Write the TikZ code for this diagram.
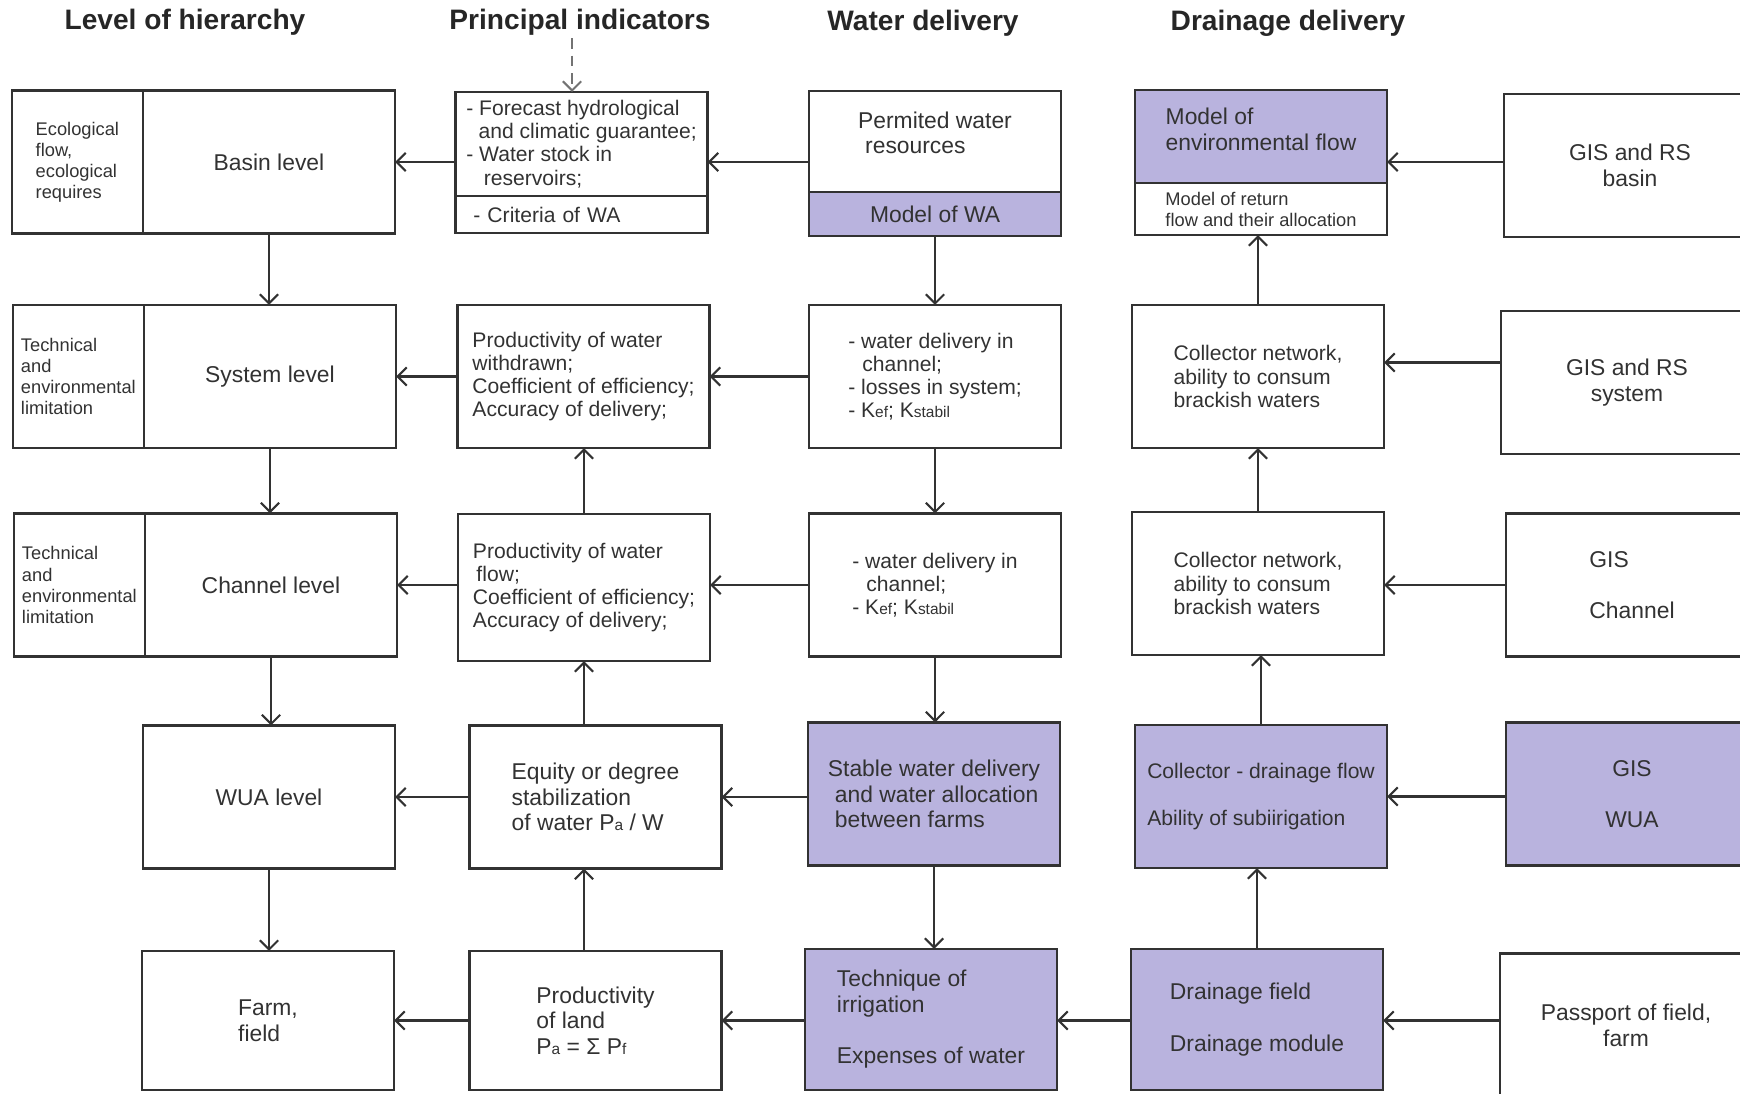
\documentclass[tikz,border=0pt]{standalone}
\usepackage{fontspec}
\setmainfont{Liberation Sans}
\usetikzlibrary{positioning, arrows.meta}

\definecolor{boxpurple}{RGB}{185,179,222}
\definecolor{inkgrey}{RGB}{50,50,50}
\newcommand{\subtxt}[1]{{\fontsize{4.4}{5}\selectfont #1}}

\begin{document}
\begin{tikzpicture}[x=0.01cm, y=-0.01cm, >={Straight Barb[length=2.6pt,width=5.2pt]},
    box/.style={rectangle, draw=inkgrey, line width=0.7pt, outer sep=0pt, minimum width=2.52cm, minimum height=1.43cm, align=left, text=inkgrey, inner sep=1pt, font=\fontsize{6.5}{7.3}\selectfont},
    midtext/.style={font=\fontsize{6.0}{6.6}\selectfont},
    smalltext/.style={font=\fontsize{5.2}{6.0}\selectfont},
    purplebox/.style={fill=boxpurple},
    sidebox/.style={box, smalltext, minimum width=1.31cm},
    heading/.style={font=\bfseries\fontsize{8}{9}\selectfont, text=black!85},
    link/.style={->, line width=0.6pt, draw=inkgrey}]

    \useasboundingbox (0,0) rectangle (1740,1093);
    \clip (0,0) rectangle (1740,1093);

    % Column headings
    \node[heading] (hlevel) at (185,22) {Level of hierarchy};
    \node[heading] (hprinc) at (580,22) {Principal indicators};
    \node[heading] (hwater) at (923,23) {Water delivery};
    \node[heading] (hdrain) at (1288,23) {Drainage delivery};

    % Basin row
    \node[box] (basin) at (269,162) {Basin level};
    \node[sidebox, left=0pt of basin] (eco) {Ecological\\flow,\\ecological\\requires};
    \node[box, midtext, minimum height=1.04cm] (forecast) at (581.5,144) {- Forecast hydrological\\\hspace*{3.5pt}and climatic guarantee;\\- Water stock in\\\hspace*{5pt}reservoirs;};
    \node[box, midtext, minimum height=0.37cm, text width=2.16cm, below=0pt of forecast] (criteria) {- Criteria of WA};
    \node[box, minimum height=1.01cm, text depth=5pt] (permited) at (935,141.5) {Permited water\\\hspace*{2pt}resources};
    \node[box, purplebox, minimum height=0.44cm, below=0pt of permited] (modelwa) {Model of WA};
    \node[box, purplebox, minimum height=0.93cm, text depth=4pt] (modelenv) at (1261,136.5) {Model of\\environmental flow};
    \node[box, smalltext, minimum height=0.52cm, below=0pt of modelenv] (ret) {Model of return\\flow and their allocation};
    \node[box, align=center] (gisb) at (1630,165.5) {GIS and RS\\basin};

    % System row
    \node[box] (system) at (270,376.5) {System level};
    \node[sidebox, left=0pt of system] (techsys) {Technical\\and\\environmental\\limitation};
    \node[box, midtext] (prodw) at (583.5,376.5) {Productivity of water\\withdrawn;\\Coefficient of efficiency;\\Accuracy of delivery;};
    \node[box, midtext] (wdsys) at (935,376.5) {- water delivery in\\\hspace*{4pt}channel;\\- losses in system;\\- K\subtxt{ef}; K\subtxt{stabil}};
    \node[box, midtext] (collsys) at (1258,376.5) {Collector network,\\ability to consum\\brackish waters};
    \node[box, align=center] (giss) at (1627,382.5) {GIS and RS\\system};

    % Channel row
    \node[box] (channel) at (271,585) {Channel level};
    \node[sidebox, left=0pt of channel] (techch) {Technical\\and\\environmental\\limitation};
    \node[box, midtext, minimum height=1.47cm] (prodf) at (584,587.5) {Productivity of water\\\hspace*{1pt}flow;\\Coefficient of efficiency;\\Accuracy of delivery;};
    \node[box, midtext] (wdch) at (935,585) {- water delivery in\\\hspace*{4pt}channel;\\- K\subtxt{ef}; K\subtxt{stabil}};
    \node[box, midtext] (collch) at (1258,583.5) {Collector network,\\ability to consum\\brackish waters};
    \node[box] (gisc) at (1632,585) {GIS\\[7.3pt]Channel};

    % WUA row
    \node[box] (wua) at (269,797) {WUA level};
    \node[box] (equity) at (595.5,797) {Equity or degree\\stabilization\\of water P\subtxt{a} / W};
    \node[box, purplebox] (stable) at (934,794) {Stable water delivery\\\hspace*{2pt}and water allocation\\\hspace*{2pt}between farms};
    \node[box, purplebox, midtext] (colldr) at (1261,796.5) {Collector - drainage flow\\[6.6pt]Ability of subiirigation};
    \node[box, purplebox, align=center] (gisw) at (1632,794) {GIS\\[7.3pt]WUA};

    % Field row
    \node[box, minimum height=1.39cm] (farm) at (268,1020.5) {Farm,\\field};
    \node[box, minimum height=1.39cm] (prodl) at (595.5,1020.5) {Productivity\\of land\\P\subtxt{a} = Σ P\subtxt{f}};
    \node[box, purplebox, minimum height=1.41cm] (techirr) at (931,1019.5) {Technique of\\irrigation\\[7.3pt]Expenses of water};
    \node[box, purplebox, minimum height=1.41cm] (drfield) at (1257,1019.5) {Drainage field\\[7.3pt]Drainage module};
    \node[box, align=center] (passport) at (1626,1025) {Passport of field,\\farm};

    % Dotted input
    \coordinate (dottop) at (572,38);
    \draw[link, densely dashed, draw=black!55] (dottop) -- (dottop |- forecast.north);

    % Horizontal links
    \draw[link] (forecast.west |- basin) -- (basin.east);
    \draw[link] (permited.west |- basin) -- (forecast.east |- basin);
    \draw[link] (gisb.west |- basin) -- (modelenv.east |- basin);
    \draw[link] (prodw.west) -- (prodw.west -| system.east);
    \draw[link] (wdsys.west) -- (wdsys.west -| prodw.east);
    \draw[link] ([yshift=0.2cm]giss.west) -- ([yshift=0.2cm]giss.west -| collsys.east);
    \draw[link] (prodf.west |- channel) -- (channel.east);
    \draw[link] (wdch.west) -- (wdch.west -| prodf.east);
    \draw[link] (gisc.west) -- (gisc.west -| collch.east);
    \draw[link] (equity.west |- wua) -- (wua.east);
    \draw[link] (stable.west |- equity) -- (equity.east);
    \draw[link] (gisw.west |- colldr) -- (colldr.east);
    \draw[link] (prodl.west |- farm) -- (farm.east);
    \draw[link] (techirr.west |- prodl) -- (prodl.east);
    \draw[link] (drfield.west |- prodl) -- (techirr.east |- prodl);
    \draw[link] (passport.west |- prodl) -- (drfield.east |- prodl);

    % Vertical links
    \draw[link] (basin.south) -- (basin.south |- system.north);
    \draw[link] (system.south) -- (system.south |- channel.north);
    \draw[link] (channel.south) -- (channel.south |- wua.north);
    \draw[link] (wua.south) -- (wua.south |- farm.north);
    \draw[link] (prodf.north) -- (prodf.north |- prodw.south);
    \draw[link] (equity.north -| prodf) -- (prodf.south);
    \draw[link] (prodl.north -| prodf) -- (equity.south -| prodf);
    \draw[link] (modelwa.south) -- (modelwa.south |- wdsys.north);
    \draw[link] (wdsys.south) -- (wdsys.south |- wdch.north);
    \draw[link] (wdch.south) -- (wdch.south |- stable.north);
    \draw[link] (stable.south) -- (stable.south |- techirr.north);
    \draw[link] (collsys.north) -- (collsys.north |- ret.south);
    \draw[link] (collch.north) -- (collch.north |- collsys.south);
    \draw[link] (colldr.north) -- (colldr.north |- collch.south);
    \draw[link] (drfield.north) -- (drfield.north |- colldr.south);
\end{tikzpicture}
\end{document}
